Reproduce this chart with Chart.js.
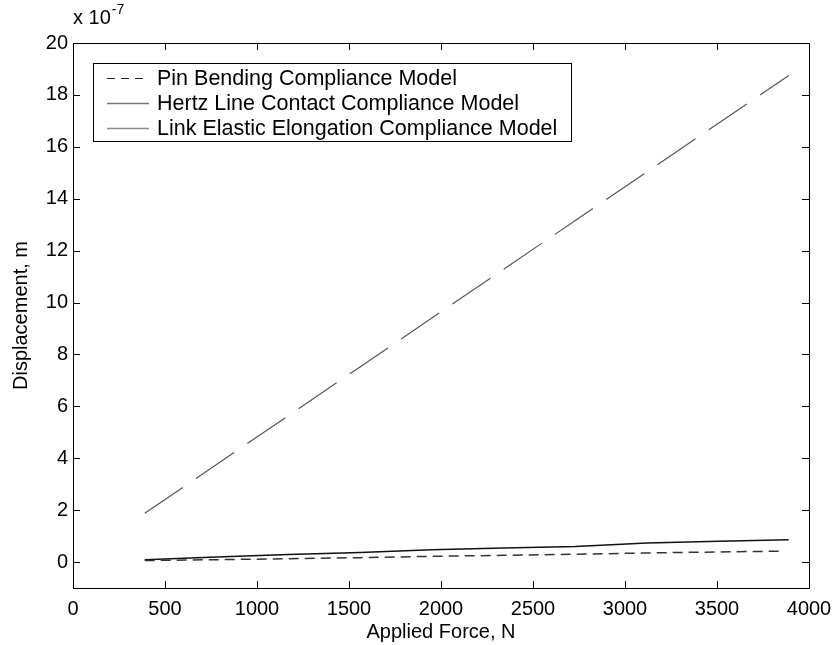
<!DOCTYPE html>
<html>
<head>
<meta charset="utf-8">
<script src="https://cdn.jsdelivr.net/npm/chart.js@4.4.1/dist/chart.umd.min.js"></script>
<style>
html,body{margin:0;padding:0;background:#fff;}
#wrap{width:835px;height:645px;position:relative;}
</style>
</head>
<body>
<div id="wrap"><canvas id="c" width="835" height="645"></canvas></div>
<script>
// Data (displacement in units of 1e-7 m)
const forceN = [390, 780, 1170, 1560, 1950, 2340, 2730, 3120, 3510, 3890];
const pinForceN = [390, 780, 1170, 1560, 1950, 2340, 2730, 3120, 3510, 3860];
const pinBending = [0.06, 0.09, 0.13, 0.17, 0.22, 0.26, 0.30, 0.35, 0.39, 0.42];
const hertzContact = [0.09, 0.19, 0.29, 0.37, 0.47, 0.54, 0.60, 0.73, 0.80, 0.86];
const linkElongation = [1.88, 3.76, 5.64, 7.52, 9.40, 11.28, 13.16, 15.04, 16.92, 18.75];
const seriesLabels = ['Pin Bending Compliance Model', 'Hertz Line Contact Compliance Model', 'Link Elastic Elongation Compliance Model'];
const xTicks = [0, 500, 1000, 1500, 2000, 2500, 3000, 3500, 4000];
const yTicks = [0, 2, 4, 6, 8, 10, 12, 14, 16, 18, 20];
const xTitle = 'Applied Force, N';
const yTitle = 'Displacement, m';

const FONT = 'Liberation Sans, Arial, Helvetica, sans-serif';
const FS = 20;
const LFS = 21.5;

const toXY = (xs, ys) => xs.map((x, i) => ({x: x, y: ys[i]}));

const framePlugin = {
  id: 'frame',
  afterDatasetsDraw(chart) {
    const ctx = chart.ctx, a = chart.chartArea;
    const xs = chart.scales.x, ys = chart.scales.y;
    ctx.save();
    ctx.strokeStyle = '#000';
    ctx.lineWidth = 1;
    ctx.strokeRect(Math.round(a.left) + 0.5, Math.round(a.top) + 0.5, Math.round(a.right - a.left), Math.round(a.bottom - a.top));
    const tl = 7;
    ctx.beginPath();
    xTicks.forEach(v => {
      const px = Math.round(xs.getPixelForValue(v)) + 0.5;
      ctx.moveTo(px, a.bottom); ctx.lineTo(px, a.bottom - tl);
      ctx.moveTo(px, a.top); ctx.lineTo(px, a.top + tl);
    });
    yTicks.forEach(v => {
      const py = Math.round(ys.getPixelForValue(v)) + 0.5;
      ctx.moveTo(a.left, py); ctx.lineTo(a.left + tl, py);
      ctx.moveTo(a.right, py); ctx.lineTo(a.right - tl, py);
    });
    ctx.stroke();

    // exponent label
    ctx.fillStyle = '#000';
    ctx.textBaseline = 'alphabetic';
    ctx.textAlign = 'left';
    ctx.font = FS + 'px ' + FONT;
    ctx.fillText('x 10', 73, 24);
    const w = ctx.measureText('x 10').width;
    ctx.font = '14px ' + FONT;
    ctx.fillText('-7', 73 + w + 1, 14);

    // legend
    const lx = 93, ly = 63, lw = 478, lh = 78;
    ctx.fillStyle = '#fff';
    ctx.fillRect(lx, ly, lw, lh);
    ctx.strokeStyle = '#000';
    ctx.lineWidth = 1;
    ctx.strokeRect(lx + 0.5, ly + 0.5, lw, lh);
    const styles = [
      {color: '#222', dash: [8, 6], width: 1.2},
      {color: '#777', dash: [], width: 1.5},
      {color: '#888', dash: [], width: 1.5}
    ];
    ctx.font = LFS + 'px ' + FONT;
    ctx.textBaseline = 'middle';
    seriesLabels.forEach((lab, i) => {
      const yy = 78 + i * 25;
      ctx.beginPath();
      ctx.strokeStyle = styles[i].color;
      ctx.lineWidth = styles[i].width;
      ctx.setLineDash(styles[i].dash);
      ctx.moveTo(107, Math.round(yy) + 0.5);
      ctx.lineTo(149, Math.round(yy) + 0.5);
      ctx.stroke();
      ctx.setLineDash([]);
      ctx.fillStyle = '#000';
      ctx.fillText(lab, 157, yy + 1);
    });
    ctx.restore();
  }
};

new Chart(document.getElementById('c'), {
  type: 'line',
  data: {
    datasets: [
      {label: seriesLabels[0], data: toXY(pinForceN, pinBending), borderColor: '#333', borderWidth: 1.5, borderDash: [10, 6], pointRadius: 0, fill: false, tension: 0},
      {label: seriesLabels[1], data: toXY(forceN, hertzContact), borderColor: '#111', borderWidth: 1.5, pointRadius: 0, fill: false, tension: 0},
      {label: seriesLabels[2], data: toXY(forceN, linkElongation), borderColor: '#555', borderWidth: 1.2, borderDash: [46, 16], pointRadius: 0, fill: false, tension: 0}
    ]
  },
  options: {
    responsive: false,
    animation: false,
    events: [],
    layout: {padding: {left: 0, right: 26, top: 43, bottom: 0}},
    plugins: {legend: {display: false}, tooltip: {enabled: false}, title: {display: false}},
    scales: {
      x: {
        type: 'linear', min: 0, max: 4000,
        afterBuildTicks: s => { s.ticks = xTicks.map(v => ({value: v})); },
        afterFit: s => { s.height = 57; s.paddingLeft = 0; s.paddingRight = 0; },
        grid: {display: false, drawTicks: false},
        border: {display: false},
        ticks: {padding: 9, color: '#000', font: {family: FONT, size: FS}, maxRotation: 0, autoSkip: false, callback: v => String(v)},
        title: {display: true, text: xTitle, color: '#000', font: {family: FONT, size: FS}, padding: {top: 0, bottom: 1}}
      },
      y: {
        type: 'linear', min: -1, max: 20,
        afterBuildTicks: s => { s.ticks = yTicks.map(v => ({value: v})); },
        afterFit: s => { s.width = 73; s.paddingTop = 0; s.paddingBottom = 0; },
        grid: {display: false, drawTicks: false},
        border: {display: false},
        ticks: {padding: 5, color: '#000', font: {family: FONT, size: FS}, autoSkip: false, callback: v => String(v)},
        title: {display: true, text: yTitle, color: '#000', font: {family: FONT, size: FS}, padding: {top: 9, bottom: 0}}
      }
    }
  },
  plugins: [framePlugin]
});
</script>
</body>
</html>
